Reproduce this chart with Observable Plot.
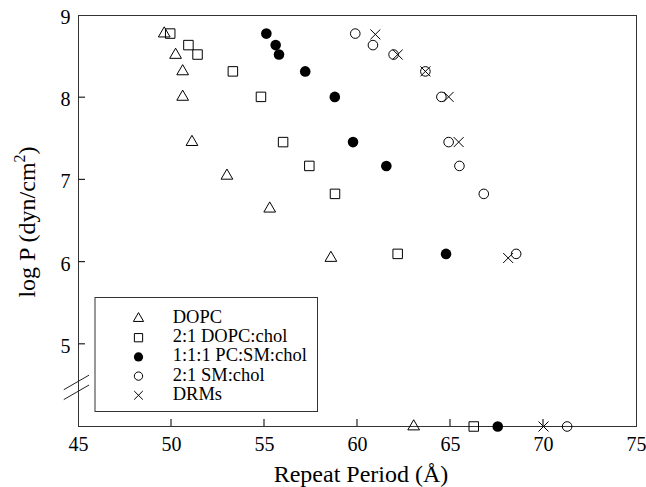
<!DOCTYPE html>
<html><head><meta charset="utf-8">
<script src="https://cdn.jsdelivr.net/npm/d3@7"></script>
<script src="https://cdn.jsdelivr.net/npm/@observablehq/plot@0.6"></script>
<style>body{margin:0;background:#fff} #chart svg{display:block} #chart svg text{font-family:'Liberation Serif','Times New Roman',serif}</style>
</head><body><div id="chart"></div>
<script>
// ---- data ----
const seriesNames = ["DOPC", "2:1 DOPC:chol", "1:1:1 PC:SM:chol", "2:1 SM:chol", "DRMs"];
// the bottom row (log P = 4) are the points drawn on the axis below the break
const dopcX = [49.61, 50.22, 50.60, 50.60, 51.10, 52.98, 55.28, 58.57, 63.02];
const dopcY = [8.78, 8.52, 8.32, 8.01, 7.46, 7.05, 6.65, 6.05, 4];
const dopcCholX = [49.93, 50.91, 51.40, 53.30, 54.81, 56.00, 57.41, 58.79, 62.16, 66.25];
const dopcCholY = [8.78, 8.64, 8.525, 8.32, 8.01, 7.46, 7.17, 6.83, 6.10, 4];
const pcSmCholX = [55.10, 55.60, 55.78, 57.19, 58.78, 59.76, 61.55, 64.76, 67.54];
const pcSmCholY = [8.78, 8.64, 8.525, 8.32, 8.01, 7.46, 7.17, 6.10, 4];
const smCholX = [59.88, 60.83, 61.94, 63.65, 64.51, 64.90, 65.48, 66.79, 68.53, 71.27];
const smCholY = [8.78, 8.64, 8.525, 8.32, 8.01, 7.46, 7.17, 6.83, 6.10, 4];
const drmX = [60.96, 62.16, 63.65, 64.90, 65.44, 68.10, 70.00];
const drmY = [8.77, 8.525, 8.32, 8.01, 7.46, 6.05, 4];
const xTicks = [45, 50, 55, 60, 65, 70, 75];
const yTicks = [5, 6, 7, 8, 9];
const yBreaks = [4.53, 4.41];

const toRows = (xs, ys) => xs.map((x, i) => ({x, y: ys[i]}));
const series = [
  {rows: toRows(dopcX, dopcY), symbol: "triangle", r: 4.35, fill: "none"},
  {rows: toRows(dopcCholX, dopcCholY), symbol: "square", r: 5.35, fill: "none"},
  {rows: toRows(pcSmCholX, pcSmCholY), symbol: "circle", r: 5.3, fill: "black"},
  {rows: toRows(smCholX, smCholY), symbol: "circle", r: 4.8, fill: "none"},
  {rows: toRows(drmX, drmY), symbol: "times", r: 4.6, fill: "none"}
];

const font = "'Liberation Serif', 'Times New Roman', serif";
const chart = Plot.plot({
  width: 646, height: 487,
  marginLeft: 78, marginRight: 10, marginTop: 15, marginBottom: 61,
  style: {fontFamily: font, background: "white", color: "black", overflow: "visible"},
  x: {domain: [45, 75]},
  y: {domain: [4, 9]},
  marks: [
    Plot.frame({stroke: "#333"}),
    Plot.axisX({ticks: xTicks, tickSize: 0, tickPadding: 10, fontSize: 20, label: null, tickFormat: "d"}),
    Plot.axisY({ticks: yTicks, tickSize: 0, tickPadding: 8, fontSize: 20, label: null, tickFormat: "d", dy: 2}),
    ...series.map(s => Plot.dot(s.rows, {
      x: "x", y: "y", symbol: () => s.symbol, r: s.r,
      stroke: s.fill === "black" ? "none" : "black",
      fill: s.fill, strokeWidth: 1
    }))
  ]
});
document.getElementById("chart").appendChild(chart);

const svg = d3.select(chart);
const xs = chart.scale("x"), ys = chart.scale("y");
const x0 = xs.apply(45), yb = ys.apply(4);

// inward tick marks
const tk = svg.append("g").attr("stroke", "#222").attr("stroke-width", 1.2).attr("fill", "none");
xTicks.slice(1, -1).forEach(v => {
  const px = xs.apply(v);
  tk.append("line").attr("x1", px).attr("x2", px).attr("y1", yb).attr("y2", yb - 7);
});
yTicks.slice(0, -1).forEach(v => {
  const py = ys.apply(v);
  tk.append("line").attr("x1", x0).attr("x2", x0 + 7).attr("y1", py).attr("y2", py);
});

// axis break marks
yBreaks.forEach(v => {
  const cy = ys.apply(v), cx = x0 - 1.6, h = 14.6, w = 25.3;
  svg.append("line").attr("x1", cx - w / 2).attr("y1", cy + h / 2)
    .attr("x2", cx + w / 2).attr("y2", cy - h / 2)
    .attr("stroke", "#222").attr("stroke-width", 1);
});

// axis titles
svg.append("text").attr("x", 361).attr("y", 482).attr("text-anchor", "middle")
  .attr("font-size", 24).attr("fill", "black")
  .text("Repeat Period (Å)");
const yt = svg.append("text").attr("transform", "translate(35,222) rotate(-90)")
  .attr("text-anchor", "middle").attr("font-size", 24).attr("fill", "black");
yt.append("tspan").text("log P (dyn/cm");
yt.append("tspan").attr("dy", "-0.6em").attr("font-size", 16).text("2");
yt.append("tspan").attr("dy", "0.4em").text(")");

// legend
const lg = svg.append("g");
lg.append("rect").attr("x", 95).attr("y", 297.5).attr("width", 222.5).attr("height", 114)
  .attr("fill", "white").attr("stroke", "#333").attr("stroke-width", 1);
const symTypes = {triangle: d3.symbolTriangle, square: d3.symbolSquare, circle: d3.symbolCircle, times: d3.symbolTimes};
seriesNames.forEach((name, i) => {
  const s = series[i];
  const cy = 318.5 + i * 19.2;
  const rr = s.r * 0.87;
  lg.append("path").attr("transform", `translate(138.5,${cy})`)
    .attr("d", d3.symbol(symTypes[s.symbol], Math.PI * rr * rr)())
    .attr("fill", s.fill).attr("stroke", s.fill === "black" ? "none" : "black").attr("stroke-width", 1);
  lg.append("text").attr("x", 172.7).attr("y", cy + 4.5).attr("text-anchor", "start")
    .attr("font-size", 18.5).attr("fill", "black").text(name);
});
</script>
</body></html>
